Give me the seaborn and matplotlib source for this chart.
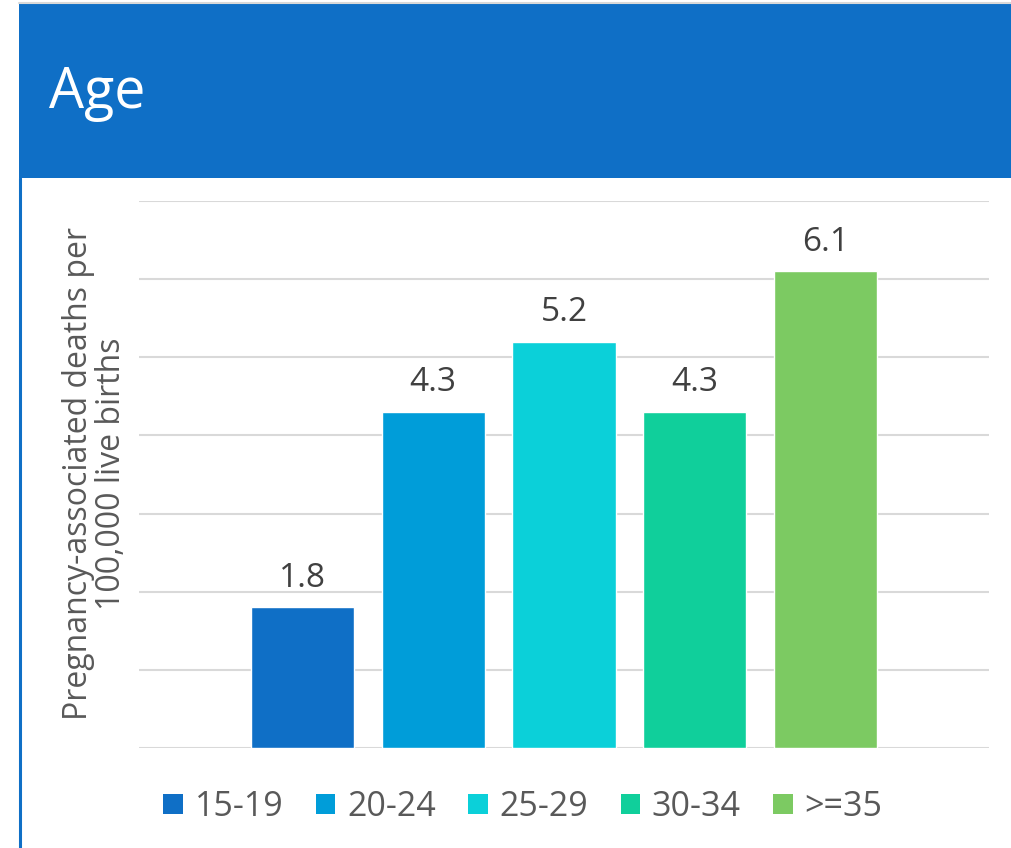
import matplotlib
matplotlib.use("Agg")
import matplotlib.pyplot as plt
from matplotlib.patches import Rectangle, Patch
from matplotlib.lines import Line2D
import seaborn as sns
import pandas as pd

# Pregnancy-associated deaths per 100,000 live births by maternal age group
age_groups = ["15-19", "20-24", "25-29", "30-34", ">=35"]
rates = [1.8, 4.3, 5.2, 4.3, 6.1]
bar_colors = ["#0F6FC6", "#009DD9", "#0BD0D9", "#10CF9B", "#7CCA62"]
title = "Age"
y_label = "Pregnancy-associated deaths per\n100,000 live births"

sns.set_theme(style="white")
plt.rcParams["font.family"] = ["Open Sans", "DejaVu Sans"]

W, H = 1012, 848
fig = plt.figure(figsize=(W / 100, H / 100), dpi=100)

# Header band and panel frame
fig.patches.append(Rectangle((19 / W, 1 - 178 / H), 1 - 19 / W, 175 / H,
                             transform=fig.transFigure, facecolor="#0F6FC6",
                             edgecolor="none", zorder=0))
fig.add_artist(Line2D([19 / W, 1], [1 - 3 / H, 1 - 3 / H], transform=fig.transFigure,
                      color="#D9D9D9", lw=1.5))
fig.add_artist(Line2D([20 / W, 20 / W], [0, 1 - 178 / H], transform=fig.transFigure,
                      color="#0F6FC6", lw=2.2))
fig.text(49 / W, 1 - 108 / H, title, color="white", fontsize=40, va="baseline", ha="left")

ax = fig.add_axes([139 / W, 100 / H, 850 / W, 547 / H])
df = pd.DataFrame({"age": age_groups, "rate": rates})
sns.barplot(data=df, x="age", y="rate", hue="age", palette=bar_colors,
            width=0.79, saturation=1, legend=False, ax=ax)

ax.set_xlim(-1.25, 5.25)
ax.set_ylim(0, 7)
ax.set_yticks(range(0, 8))
ax.yaxis.grid(True, color="#D9D9D9", lw=1.5)
ax.set_axisbelow(True)
ax.tick_params(left=False, bottom=False, labelleft=False, labelbottom=False)
for s in ax.spines.values():
    s.set_visible(False)
ax.set_xlabel("")
ax.set_ylabel("")

for cont in ax.containers:
    ax.bar_label(cont, fmt="%.1f", padding=9, fontsize=24, color="#404040")

fig.text(95 / W, 1 - 474 / H, y_label, rotation=90, ha="center", va="center",
         fontsize=23, color="#595959", linespacing=1.0)

handles = [Patch(facecolor=c, edgecolor="none") for c in bar_colors]
fig.legend(handles, age_groups, loc="center", bbox_to_anchor=(523 / W, 1 - 807 / H),
           ncol=5, frameon=False, fontsize=24.5, labelcolor="#595959",
           handlelength=0.57, handleheight=0.57, handletextpad=0.35, columnspacing=0.95)

fig.savefig("out.png", dpi=100, facecolor="white")
